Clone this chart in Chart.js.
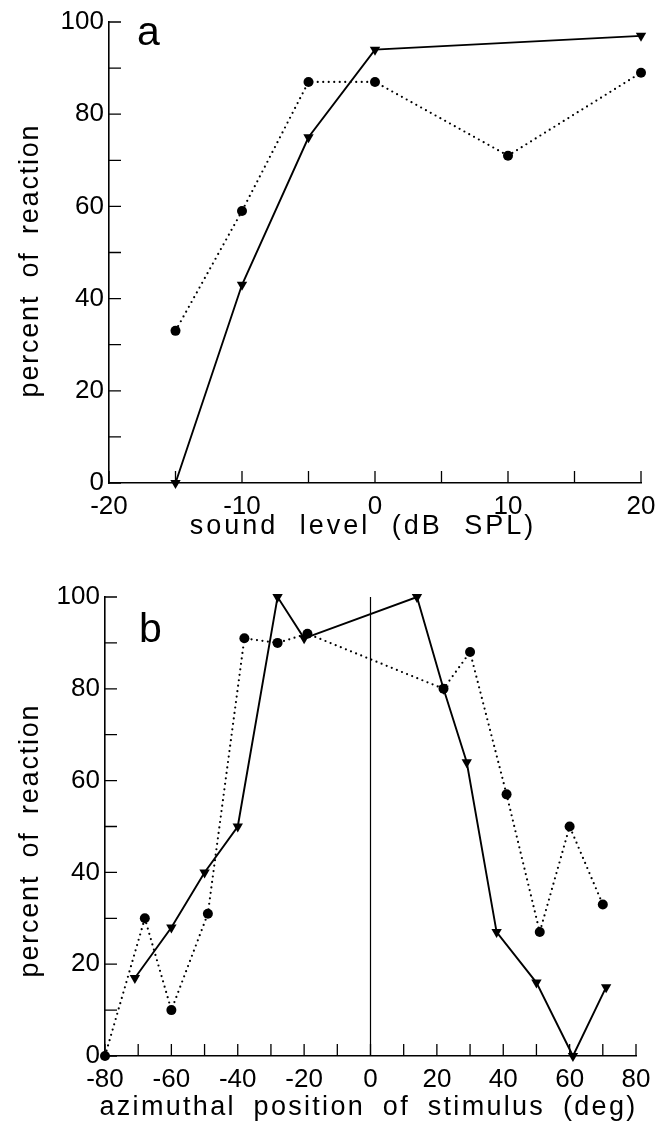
<!DOCTYPE html>
<html>
<head>
<meta charset="utf-8">
<script src="https://cdn.jsdelivr.net/npm/chart.js@4.4.1/dist/chart.umd.min.js"></script>
<style>
  html, body { margin: 0; padding: 0; background: #fff; }
  #wrapA { position: absolute; left: 0; top: 0; width: 666px; height: 560px; }
  #wrapB { position: absolute; left: 0; top: 560px; width: 666px; height: 563px; }
</style>
</head>
<body>
<div id="wrapA"><canvas id="chartA"></canvas></div>
<div id="wrapB"><canvas id="chartB"></canvas></div>
<script>
// panel a: sound level (dB SPL)
const levelCircle = [-15, -10, -5, 0, 10, 20];
const reactCircleA = [33, 59, 87, 87, 71, 89];
const levelTri = [-15, -10, -5, 0, 20];
const reactTriA = [0, 43, 75, 94, 97];
const ticksA = [-20, -10, 0, 10, 20];

// panel b: azimuthal position (deg)
const azCircle = [-80, -68, -60, -49, -38, -28, -19, 22, 30, 41, 51, 60, 70];
const reactCircleB = [0, 30, 10, 31, 91, 90, 92, 80, 88, 57, 27, 50, 33];
const azTri = [-71, -60, -50, -40, -28, -20, 14, 22, 29, 38, 50, 61, 71];
const reactTriB = [17, 28, 40, 50, 100, 91, 100, 80, 64, 27, 16, 0, 15];
const midline = [0, 0];
const midlineY = [0, 100];
const ticksB = [-80, -60, -40, -20, 0, 20, 40, 60, 80];

const yTicks = [0, 20, 40, 60, 80, 100];
const FONT = "Liberation Sans, Arial, sans-serif";

function pts(xs, ys) {
  return xs.map((x, i) => ({ x: x, y: ys[i] }));
}

// inward tick marks, panel letter and spaced axis titles
const decor = {
  id: "decor",
  afterDatasetsDraw(chart, args, o) {
    const ctx = chart.ctx;
    const xs = chart.scales.x, ys = chart.scales.y;
    const a = chart.chartArea;
    ctx.save();
    ctx.strokeStyle = "#000";
    ctx.lineWidth = 1.3;
    ctx.beginPath();
    for (let v = xs.min; v <= xs.max; v += o.xStep) {
      const px = xs.getPixelForValue(v);
      ctx.moveTo(px, a.bottom);
      ctx.lineTo(px, a.bottom - o.len);
    }
    for (let v = ys.min; v <= ys.max; v += o.yStep) {
      const py = ys.getPixelForValue(v);
      ctx.moveTo(a.left, py);
      ctx.lineTo(a.left + o.len, py);
    }
    ctx.stroke();

    ctx.fillStyle = "#000";
    ctx.textBaseline = "alphabetic";
    ctx.textAlign = "left";
    ctx.font = "41px " + FONT;
    ctx.fillText(o.letter, a.left + o.letterDx, a.top + o.letterDy);

    ctx.font = "27px " + FONT;
    ctx.textAlign = "center";
    ctx.textBaseline = "middle";
    ctx.letterSpacing = o.xLs + "px";
    ctx.wordSpacing = o.xWs + "px";
    ctx.fillText(o.xTitle, (a.left + a.right) / 2 + o.xTitleDx, a.bottom + o.xTitleDy);
    ctx.letterSpacing = "1.8px";
    ctx.wordSpacing = "8px";
    ctx.translate(31, (a.top + a.bottom) / 2 + o.yTitleDy);
    ctx.rotate(-Math.PI / 2);
    ctx.fillText("percent of reaction", 0, 0);
    ctx.restore();
  }
};

function makeChart(id, cfg) {
  const circleSet = {
    data: pts(cfg.cx, cfg.cy),
    borderColor: "#000",
    backgroundColor: "#000",
    borderWidth: 2.2,
    borderDash: [0, 5.5],
    borderCapStyle: "round",
    pointStyle: "circle",
    pointRadius: 5,
    pointBorderWidth: 0,
    clip: false
  };
  const triSet = {
    data: pts(cfg.tx, cfg.ty),
    borderColor: "#000",
    backgroundColor: "#000",
    borderWidth: 1.9,
    pointStyle: "triangle",
    rotation: 180,
    pointRadius: 6,
    pointBorderWidth: 0,
    clip: false
  };
  const datasets = [circleSet, triSet];
  if (cfg.mid) {
    datasets.push({
      data: pts(midline, midlineY),
      borderColor: "#000",
      borderWidth: 1.2,
      pointRadius: 0
    });
  }
  return new Chart(document.getElementById(id), {
    type: "line",
    data: { datasets: datasets },
    options: {
      responsive: true,
      maintainAspectRatio: false,
      animation: false,
      layout: { padding: { left: 0, right: cfg.right, top: cfg.top, bottom: 0 } },
      plugins: {
        legend: { display: false },
        tooltip: { enabled: false },
        decor: cfg.decor
      },
      scales: {
        x: {
          type: "linear",
          min: cfg.ticks[0],
          max: cfg.ticks[cfg.ticks.length - 1],
          afterBuildTicks: (s) => { s.ticks = cfg.ticks.map(v => ({ value: v })); },
          grid: { display: false, drawTicks: false },
          border: { display: true, color: "#000", width: 1.6 },
          ticks: { color: "#000", padding: 8, maxRotation: 0, font: { family: FONT, size: 26 } },
          afterFit: (s) => { s.height = cfg.xh; }
        },
        y: {
          min: 0,
          max: 100,
          afterBuildTicks: (s) => { s.ticks = yTicks.map(v => ({ value: v })); },
          grid: { display: false, drawTicks: false },
          border: { display: true, color: "#000", width: 1.6 },
          ticks: { color: "#000", padding: 5, font: { family: FONT, size: 26 } },
          afterFit: (s) => { s.width = cfg.yw; }
        }
      }
    },
    plugins: [decor]
  });
}

makeChart("chartA", {
  cx: levelCircle, cy: reactCircleA, tx: levelTri, ty: reactTriA,
  ticks: ticksA, top: 22, right: 25, xh: 77, yw: 109, mid: false,
  decor: { xStep: 5, yStep: 10, len: 12, letter: "a", letterDx: 28, letterDy: 23,
           xTitle: "sound level (dB SPL)", xTitleDx: -12, xTitleDy: 44, xLs: 3, xWs: 11,
           yTitleDy: 8 }
});

makeChart("chartB", {
  cx: azCircle, cy: reactCircleB, tx: azTri, ty: reactTriB,
  ticks: ticksB, top: 37, right: 30, xh: 67, yw: 105, mid: true,
  decor: { xStep: 10, yStep: 10, len: 12, letter: "b", letterDx: 34, letterDy: 45,
           xTitle: "azimuthal position of stimulus (deg)", xTitleDx: -2, xTitleDy: 52, xLs: 2.3, xWs: 8,
           yTitleDy: 14 }
});
</script>
</body>
</html>
